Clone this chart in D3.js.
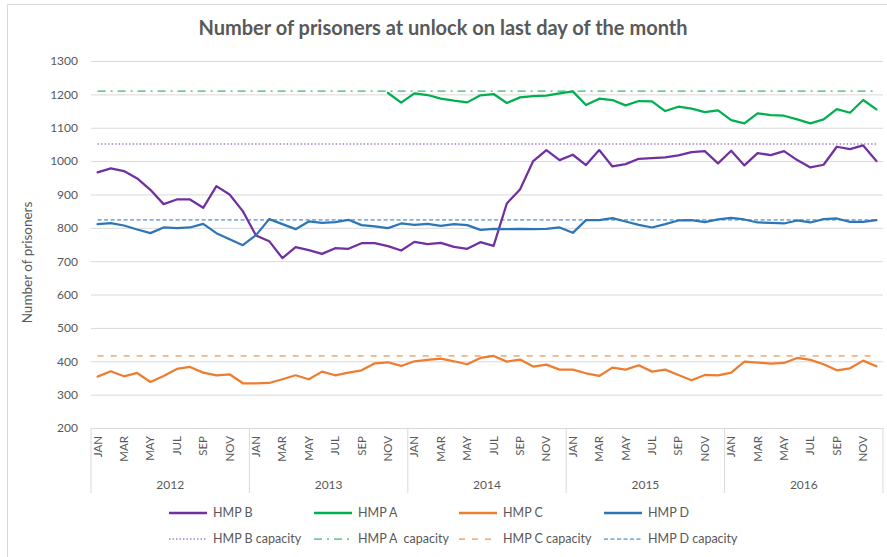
<!DOCTYPE html>
<html>
<head>
<meta charset="utf-8">
<script src="https://cdn.jsdelivr.net/npm/d3@7"></script>
<style>
  html, body { margin: 0; padding: 0; background: #fff; }
  svg { display: block; font-family: Lato, "Open Sans", sans-serif; }
</style>
</head>
<body>
<svg id="chart" width="887" height="557"></svg>
<script>
// ---------- DATA ----------
const years = ["2012", "2013", "2014", "2015", "2016"];
const monthNames = ["JAN","FEB","MAR","APR","MAY","JUN","JUL","AUG","SEP","OCT","NOV","DEC"];
const yTicks = [200, 300, 400, 500, 600, 700, 800, 900, 1000, 1100, 1200, 1300];

const hmpB = [
  966, 978, 970, 948, 914, 871, 885, 885, 860, 925, 900, 850,
  777, 760, 709, 742, 733, 722, 739, 737, 754, 754, 745, 732,
  758, 751, 755, 743, 737, 757, 746, 873, 915, 1000, 1033, 1003,
  1019, 988, 1033, 984, 991, 1007, 1009, 1011, 1017, 1027, 1030, 993,
  1031, 987, 1024, 1018, 1030, 1003, 981, 989, 1043, 1036, 1047, 1000
];
const hmpA = [
  null, null, null, null, null, null, null, null, null, null, null, null,
  null, null, null, null, null, null, null, null, null, null, 1204, 1175,
  1203, 1198, 1187, 1181, 1176, 1197, 1201, 1174, 1191, 1195, 1196, 1203,
  1209, 1168, 1187, 1183, 1167, 1180, 1179, 1150, 1163, 1157, 1147, 1152,
  1123, 1113, 1143, 1138, 1136, 1125, 1113, 1125, 1156, 1145, 1183, 1155
];
const hmpC = [
  354, 370, 355, 365, 338, 356, 377, 383, 366, 358, 361, 334,
  334, 335, 346, 358, 346, 369, 358, 366, 373, 394, 397, 386,
  400, 404, 408, 400, 391, 410, 416, 399, 405, 384, 390, 375,
  375, 364, 356, 381, 375, 388, 369, 375, 359, 343, 359, 358,
  366, 399, 396, 393, 395, 410, 404, 391, 373, 379, 402, 385
];
const hmpD = [
  811, 814, 807, 795, 784, 801, 799, 801, 812, 784, 766, 748,
  778, 826, 811, 796, 819, 815, 817, 824, 808, 804, 799, 813,
  809, 812, 806, 811, 808, 794, 797, 796, 797, 796, 797, 801,
  785, 823, 823, 829, 819, 809, 801, 811, 822, 823, 817, 825,
  830, 825, 816, 815, 813, 822, 816, 826, 828, 818, 818, 823
];
const capB = 1051, capA = 1210, capC = 416, capD = 824;

// ---------- BUILD ----------
const months = [];
years.forEach(y => monthNames.forEach(m => months.push({ year: y, month: m, key: y + "-" + m })));

const seriesDefs = [
  { name: "HMP B", values: hmpB, color: "#7030A0", width: 2.25, dash: null },
  { name: "HMP A", values: hmpA, color: "#00B050", width: 2.25, dash: null },
  { name: "HMP C", values: hmpC, color: "#ED7D31", width: 2.25, dash: null },
  { name: "HMP D", values: hmpD, color: "#2E75B6", width: 2.25, dash: null }
];
const capDefs = [
  { name: "HMP B capacity", value: capB, color: "#A383C7", width: 1.5, dash: "1.5,2" },
  { name: "HMP A  capacity", value: capA, color: "#72CC98", width: 1.75, dash: "8,5,2,5" },
  { name: "HMP C capacity", value: capC, color: "#F4B183", width: 1.75, dash: "6,7" },
  { name: "HMP D capacity", value: capD, color: "#7DB1E0", width: 1.75, dash: "4,2.5" }
];

const svg = d3.select("#chart");
const textColor = "#595959";
const gridColor = "#D9D9D9";

const plot = { left: 91, right: 883, top: 61, bottom: 428 };

const x = d3.scaleBand().domain(months.map(d => d.key)).range([plot.left, plot.right]).padding(0);
const y = d3.scaleLinear().domain([200, 1300]).range([plot.bottom, plot.top]);
const cx = k => x(k) + x.bandwidth() / 2;

// chart frame (top & left visible)
svg.append("path")
  .attr("d", "M7.5,600 V4.5 H900")
  .attr("fill", "none").attr("stroke", "#D9D9D9").attr("stroke-width", 1);

// title
svg.append("text")
  .attr("x", 443).attr("y", 35)
  .attr("text-anchor", "middle")
  .attr("font-size", 20).attr("font-weight", 700)
  .attr("fill", textColor)
  .text("Number of prisoners at unlock on last day of the month");

// gridlines
const yAxis = d3.axisLeft(y).tickValues(yTicks).tickSize(-(plot.right - plot.left)).tickPadding(13).tickFormat(d3.format("d"));
const gy = svg.append("g").attr("transform", `translate(${plot.left},0)`).call(yAxis);
gy.select(".domain").remove();
gy.selectAll(".tick line").attr("stroke", gridColor).attr("stroke-width", 1);
gy.selectAll(".tick text").attr("fill", textColor).attr("font-size", 12).attr("font-family", "Lato, sans-serif");

// y axis title
svg.append("text")
  .attr("transform", `translate(32,${(plot.top + plot.bottom) / 2 + 18}) rotate(-90)`)
  .attr("text-anchor", "middle")
  .attr("font-size", 13.5).attr("fill", textColor)
  .text("Number of prisoners");

// x axis (month labels)
const xAxis = d3.axisBottom(x)
  .tickValues(months.filter((d, i) => i % 2 === 0).map(d => d.key))
  .tickFormat(k => k.split("-")[1])
  .tickSize(0).tickPadding(0);
const gx = svg.append("g").attr("transform", `translate(0,${plot.bottom})`).call(xAxis);
gx.select(".domain").attr("stroke", gridColor);
gx.selectAll(".tick text")
  .attr("fill", textColor).attr("font-size", 11.5).attr("font-family", "Lato, sans-serif")
  .attr("transform", "rotate(-90)")
  .attr("text-anchor", "end")
  .attr("x", -8).attr("y", 0).attr("dy", "0.35em");

// year group separators and labels
const yearBounds = years.map(yr => {
  const first = x(yr + "-JAN");
  const last = x(yr + "-DEC") + x.bandwidth();
  return { yr, first, last };
});
const sepXs = [plot.left].concat(yearBounds.map(b => b.last));
svg.append("g").selectAll("line").data(sepXs).join("line")
  .attr("x1", d => d).attr("x2", d => d)
  .attr("y1", plot.bottom).attr("y2", 493)
  .attr("stroke", gridColor).attr("stroke-width", 1);
svg.append("g").selectAll("text").data(yearBounds).join("text")
  .attr("x", d => (d.first + d.last) / 2).attr("y", 489)
  .attr("text-anchor", "middle").attr("font-size", 12).attr("fill", textColor)
  .text(d => d.yr);

// capacity lines
const line = d3.line().defined(d => d.v != null).x(d => cx(d.k)).y(d => y(d.v));
capDefs.forEach(c => {
  svg.append("path")
    .datum(months.map(m => ({ k: m.key, v: c.value })))
    .attr("d", line)
    .attr("fill", "none").attr("stroke", c.color)
    .attr("stroke-width", c.width).attr("stroke-dasharray", c.dash);
});

// series lines
seriesDefs.forEach(s => {
  svg.append("path")
    .datum(months.map((m, i) => ({ k: m.key, v: s.values[i] })))
    .attr("d", line)
    .attr("fill", "none").attr("stroke", s.color)
    .attr("stroke-width", s.width)
    .attr("stroke-linejoin", "round").attr("stroke-linecap", "round");
});

// legend
const legendCols = [169, 314, 459, 604];
const legendRows = [513, 539];
const legItems = seriesDefs.map((s, i) => ({ ...s, row: 0, col: i }))
  .concat(capDefs.map((c, i) => ({ ...c, row: 1, col: i })));
const lg = svg.append("g");
legItems.forEach(it => {
  const x0 = legendCols[it.col], yy = legendRows[it.row];
  lg.append("line")
    .attr("x1", x0).attr("x2", x0 + 38).attr("y1", yy).attr("y2", yy)
    .attr("stroke", it.color).attr("stroke-width", it.row === 0 ? 2.5 : it.width)
    .attr("stroke-dasharray", it.dash);
  lg.append("text")
    .attr("x", x0 + 44).attr("y", yy).attr("dy", "0.35em")
    .attr("font-size", 12.5).attr("fill", textColor)
    .attr("xml:space", "preserve")
    .style("white-space", "pre")
    .text(it.name);
});
</script>
</body>
</html>
